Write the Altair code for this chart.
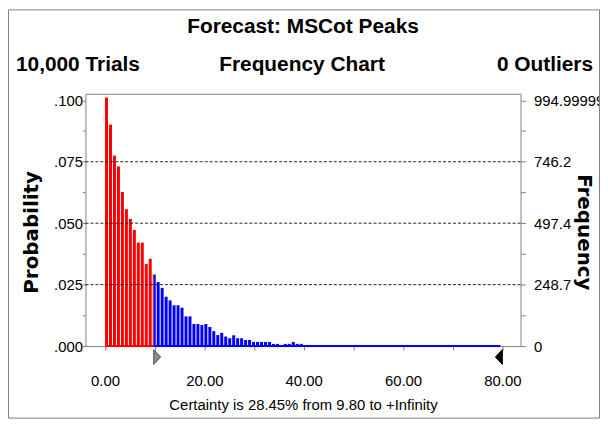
import altair as alt
import pandas as pd
import numpy as np

# ---- data ----
bin_width = 0.8          # spacing between bins (x units)
bar_width = 0.6          # drawn width of each bar (x units)
certainty_from = 9.80    # lower certainty limit
value_max = 79.6         # end of the forecast range on the axis
end_marker = 80.0        # +Infinity grabber position

probabilities = [
    0.1011, 0.0901, 0.0775, 0.0731, 0.0627, 0.0557, 0.0517, 0.0473, 0.0421, 0.0421,
    0.0334, 0.0355, 0.0291,
    0.0261, 0.0237, 0.0201, 0.0186, 0.0166, 0.0166, 0.0156, 0.0121, 0.0121, 0.0090,
    0.0090, 0.0086, 0.0090, 0.0078, 0.0061, 0.0045, 0.0054, 0.0039, 0.0032, 0.0044,
    0.0032, 0.0032, 0.0025, 0.0025, 0.0017, 0.0017, 0.0017, 0.0017, 0.0017, 0.0009,
    0.0009, 0.0004, 0.0009, 0.0009, 0.0017, 0.0009, 0.0009,
]

y_major = [0.0, 0.025, 0.05, 0.075, 0.1]
y_minor = [0.0125, 0.0375, 0.0625, 0.0875]
freq_labels = ["0", "248.7", "497.4", "746.2", "994.99999"]
grid_values = [0.025, 0.05, 0.075]
x_ticks = [0, 10, 20, 30, 40, 50, 60, 70, 80]

chart_title = "Forecast: MSCot Peaks"
left_header = "10,000 Trials"
mid_header = "Frequency Chart"
right_header = "0 Outliers"
certainty_text = "Certainty is 28.45% from 9.80 to +Infinity"

# ---- build tables ----
rows = []
for i, p in enumerate(probabilities):
    s = i * bin_width
    e = s + bar_width
    if s < certainty_from:
        rows.append(dict(x=s, x2=min(e, certainty_from), p=p, part="below"))
    if e > certainty_from:
        rows.append(dict(x=max(s, certainty_from), x2=e, p=p, part="above"))
bars_df = pd.DataFrame(rows)

base_df = pd.DataFrame([
    dict(x=0.0, x2=certainty_from, part="below"),
    dict(x=certainty_from, x2=value_max, part="above"),
])
grid_df = pd.DataFrame({"g": grid_values})

W, H = 438, 254
FONT = "Liberation Sans"
TFONT = "DejaVu Sans"

xscale = alt.Scale(domain=[-3.94, 83.66], nice=False, zero=False)
yscale = alt.Scale(domain=[0, 0.10263], nice=False, zero=False)

x_axis = alt.Axis(
    values=x_ticks,
    labelExpr="datum.value % 20 == 0 ? format(datum.value, '.2f') : ''",
    tickSize=4, tickColor="#808080", domain=False, grid=False,
    labelFont=FONT, labelFontSize=15, labelColor="black", labelPadding=24,
    title=certainty_text, titleFont=FONT, titleFontSize=15, titleFontWeight="normal",
    titleColor="black", titleY=59, titleBaseline="middle",
)

left_axis = alt.Axis(
    orient="left", values=y_major + y_minor,
    labelExpr="abs(datum.value*40 - round(datum.value*40)) < 0.01 ? substring(format(datum.value, '.3f'), 1) : ''",
    tickSize=3, tickColor="#808080", domain=False, grid=False,
    labelFont=FONT, labelFontSize=15, labelColor="black", labelPadding=0,
    title="Probability", titleFont=TFONT, titleFontSize=20, titleFontWeight="bold",
    titleColor="black", titleAngle=-90, titleX=-54, titleY=139,
    titleAlign="center", titleBaseline="middle",
)

label_array = "[" + ",".join("'%s'" % s for s in freq_labels) + "]"
right_axis = alt.Axis(
    orient="right", values=y_major + y_minor,
    labelExpr="abs(datum.value*40 - round(datum.value*40)) < 0.01 ? " + label_array + "[round(datum.value*40)] : ''",
    tickSize=5, tickColor="#808080", domain=False, grid=False,
    labelFont=FONT, labelFontSize=15, labelColor="black", labelPadding=8,
    title="Frequency", titleFont=TFONT, titleFontSize=20, titleFontWeight="bold",
    titleColor="black", titleAngle=90, titleX=63, titleY=139,
    titleAlign="center", titleBaseline="middle",
)

bar_color = alt.Color("part:N", scale=alt.Scale(domain=["below", "above"], range=["#ff0000", "#0000ff"]), legend=None)

bars = alt.Chart(bars_df).mark_rect().encode(
    x=alt.X("x:Q", scale=xscale, axis=x_axis),
    x2="x2:Q",
    y=alt.Y("p:Q", scale=yscale, axis=left_axis),
    y2=alt.datum(0),
    color=bar_color,
)

baseline = alt.Chart(base_df).mark_rule(strokeWidth=2).encode(
    x=alt.X("x:Q", scale=xscale),
    x2="x2:Q",
    y=alt.YDatum(0, scale=yscale, axis=None),
    color=alt.Color("part:N", scale=alt.Scale(domain=["below", "above"], range=["#8b0000", "#000080"]), legend=None),
)

grid = alt.Chart(grid_df).mark_rule(strokeDash=[3, 2], color="#222222", strokeWidth=1).encode(
    y=alt.Y("g:Q", scale=yscale, axis=right_axis),
)

markers_df = pd.DataFrame([
    dict(v=certainty_from, kind="lo"),
    dict(v=end_marker, kind="hi"),
])
lo_marker = alt.Chart(markers_df[markers_df.kind == "lo"]).mark_point(
    shape="M0,-1L0.93,0L0,1Z", size=225, filled=True, fill="#8c8c8c", stroke="#555555", strokeWidth=1, opacity=1
).encode(x=alt.X("v:Q", scale=xscale), y=alt.value(265))
hi_marker = alt.Chart(markers_df[markers_df.kind == "hi"]).mark_point(
    shape="M0,-1L-0.93,0L0,1Z", size=225, filled=True, fill="black", stroke="black", strokeWidth=1, opacity=1
).encode(x=alt.X("v:Q", scale=xscale), y=alt.value(265))


def label(text, x, y, align, size=21):
    return alt.Chart(pd.DataFrame({"t": [text]})).mark_text(
        font=FONT, fontSize=size, fontWeight="bold", align=align, baseline="middle", color="black"
    ).encode(text="t:N", x=alt.value(x), y=alt.value(y))


border = alt.Chart(pd.DataFrame({"t": [0]})).mark_rect(
    fillOpacity=0, stroke="#808080", strokeWidth=1
).encode(x=alt.value(-77.5), x2=alt.value(517.5), y=alt.value(-84.5), y2=alt.value(326.5))

chart = alt.layer(
    border,
    bars,
    baseline,
    grid,
    lo_marker,
    hi_marker,
    label(chart_title, 219, -67, "center"),
    label(left_header, -70, -29, "left"),
    label(mid_header, 218, -29, "center"),
    label(right_header, 511, -29, "right"),
).resolve_scale(y="independent").resolve_axis(y="independent").properties(
    width=W, height=H,
    autosize=alt.AutoSizeParams(type="none"),
    padding={"left": 78, "top": 85, "right": 80, "bottom": 73},
).configure_view(stroke="#808080", strokeWidth=1)

chart.save("out.html", embed_options={"renderer": "svg", "actions": False})
